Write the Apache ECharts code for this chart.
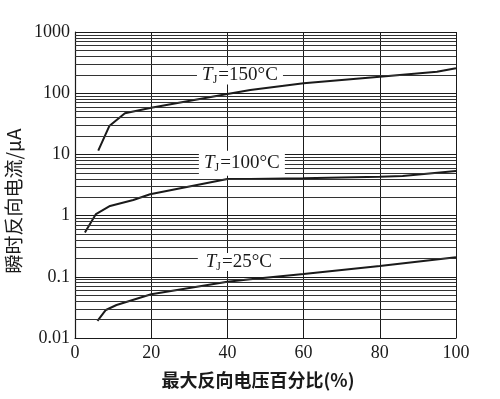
<!DOCTYPE html>
<html>
<head>
<meta charset="utf-8">
<script src="https://cdn.jsdelivr.net/npm/echarts@6/dist/echarts.min.js"></script>
<style>
html, body { margin: 0; padding: 0; background: #fff; }
#chart { width: 500px; height: 399px; }
</style>
</head>
<body>
<div id="chart"></div>
<script>
// curve readings: [percent of max reverse voltage, current in uA]
var tj150 = [[6.1, 11.5], [9.0, 29], [13.1, 47], [20, 58], [40, 97], [46, 113], [60, 145], [80, 186], [95, 224], [100, 256]];
var tj100 = [[2.6, 0.53], [5.5, 1.06], [9.2, 1.44], [15.3, 1.8], [19.7, 2.23], [40, 3.96], [46, 3.96], [60, 4.07], [80, 4.3], [86, 4.43], [100, 5.35]];
var tj25 = [[5.9, 0.019], [8.1, 0.0287], [10.9, 0.0346], [20, 0.0518], [40, 0.083], [46, 0.091], [60, 0.111], [80, 0.150], [100, 0.208]];

var curveLabels = ['150', '100', '25'];
var labelAnchors = [[43.3, 198], [43.8, 7.2], [43, 0.175]];
var labelBoxes = [[86, 19], [86, 25], [82, 18]];

var xName = '最大反向电压百分比(%)';
var yName = '瞬时反向电流/μA';

// minor log gridlines 2..9 in each decade
var minorLines = [];
for (var d = -2; d < 3; d++) {
    for (var k = 2; k < 10; k++) {
        minorLines.push({ yAxis: k * Math.pow(10, d) });
    }
}

var serif = '"Liberation Serif", "DejaVu Serif", serif';
var ink = '#1a1a1a';

var myChart = echarts.init(document.getElementById('chart'));

var option = {
    backgroundColor: '#fff',
    animation: false,
    grid: { left: 75, right: 44, top: 32, bottom: 61, outerBoundsMode: 'none' },
    xAxis: {
        type: 'value',
        min: 0,
        max: 100,
        interval: 20,
        name: xName,
        nameLocation: 'middle',
        nameGap: 33,
        nameTextStyle: { fontFamily: '"Noto Sans CJK SC"', fontSize: 18, fontWeight: 'bold', color: ink, padding: [0, 15, 0, 0] },
        axisLine: { lineStyle: { color: ink, width: 1.2 } },
        axisTick: { show: false },
        axisLabel: { fontFamily: serif, fontSize: 18, color: ink, margin: 6 },
        splitLine: { show: true, lineStyle: { color: ink, width: 1 } }
    },
    yAxis: {
        type: 'log',
        logBase: 10,
        min: 0.01,
        max: 1000,
        name: yName,
        nameLocation: 'middle',
        nameGap: 39,
        nameRotate: 90,
        nameTextStyle: { fontFamily: '"Noto Sans CJK SC"', fontSize: 19, color: ink, padding: [0, 32, 0, 0] },
        axisLine: { show: true, lineStyle: { color: ink, width: 1.2 } },
        axisTick: { show: false },
        axisLabel: {
            fontFamily: serif, fontSize: 18, color: ink, margin: 5,
            formatter: function (v) { return v >= 1 ? v.toFixed(0) : String(+v.toPrecision(1)); }
        },
        splitLine: { show: true, lineStyle: { color: ink, width: 1 } }
    },
    series: [
        {
            name: 'grid',
            type: 'line',
            data: [],
            silent: true,
            z: 1,
            markLine: {
                silent: true,
                symbol: 'none',
                label: { show: false },
                lineStyle: { color: '#333', width: 1, type: 'solid' },
                data: minorLines
            }
        },
        {
            name: 'labels',
            type: 'scatter',
            data: [],
            z: 3,
            markPoint: {
                silent: true,
                data: labelAnchors.map(function (c, i) {
                    return {
                        coord: c,
                        symbol: 'rect',
                        symbolSize: labelBoxes[i],
                        itemStyle: { color: '#fff' },
                        label: {
                            show: true,
                            position: 'inside',
                            formatter: '{t|T}{s|J}{n|=' + curveLabels[i] + '°C}',
                            rich: {
                                t: { fontFamily: serif, fontStyle: 'italic', fontSize: 19, color: ink },
                                s: { fontFamily: serif, fontSize: 12, color: ink, padding: [9, 1, 0, 0] },
                                n: { fontFamily: serif, fontSize: 19, color: ink }
                            }
                        }
                    };
                })
            }
        },
        { name: 'TJ=150', type: 'line', data: tj150, showSymbol: false, z: 4, lineStyle: { color: ink, width: 2 } },
        { name: 'TJ=100', type: 'line', data: tj100, showSymbol: false, z: 4, lineStyle: { color: ink, width: 2 } },
        { name: 'TJ=25', type: 'line', data: tj25, showSymbol: false, z: 4, lineStyle: { color: ink, width: 2 } }
    ]
};

myChart.setOption(option, true);
</script>
</body>
</html>
